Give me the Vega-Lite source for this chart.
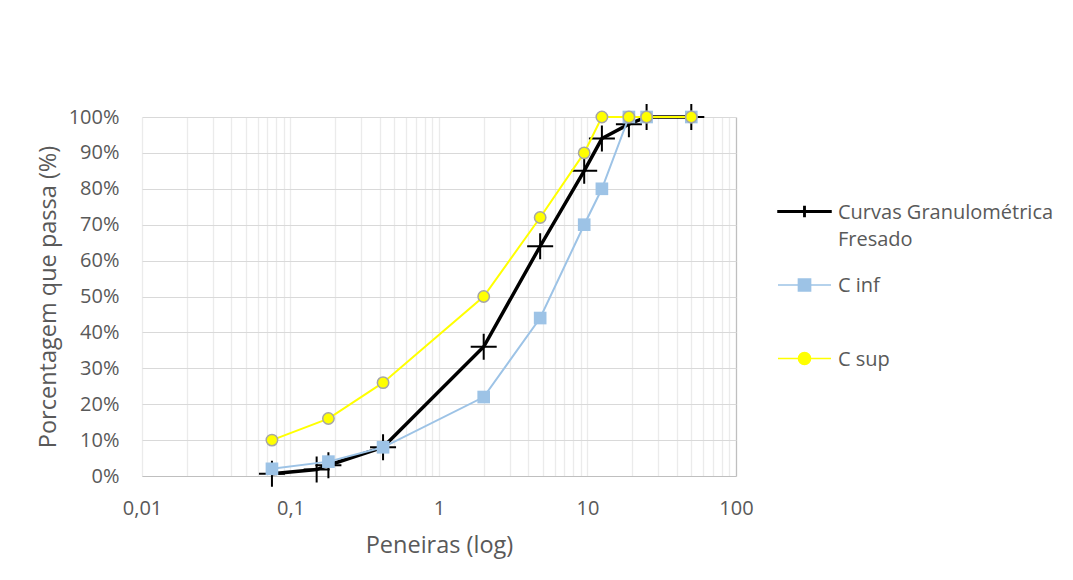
{
  "$schema": "https://vega.github.io/schema/vega-lite/v6.json",
  "width": 594,
  "height": 359,
  "autosize": {"type": "none"},
  "padding": {"left": 142, "top": 117, "right": 337, "bottom": 104},
  "background": "white",
  "config": {
    "font": "Open Sans",
    "view": {"stroke": null},
    "style": {"guide-label": {"dy": 7, "lineHeight": 27}},
    "legend": {
      "title": null,
      "orient": "none",
      "legendX": 635,
      "legendY": 67,
      "padding": 0,
      "gridAlign": "all",
      "symbolSize": 2809,
      "symbolStrokeWidth": 1.5,
      "labelFont": "Open Sans",
      "labelFontSize": 20,
      "labelColor": "#595959",
      "labelLimit": 400,
      "labelOffset": 6,
      "rowPadding": 7.5,
      "labelBaseline": "alphabetic"
    }
  },
  "datasets": {
    "d": [
      {"serie": "Curvas Granulométrica Fresado", "abertura": 0.075, "passa": 0.6},
      {"serie": "Curvas Granulométrica Fresado", "abertura": 0.15, "passa": 1.8},
      {"serie": "Curvas Granulométrica Fresado", "abertura": 0.18, "passa": 3},
      {"serie": "Curvas Granulométrica Fresado", "abertura": 0.42, "passa": 8},
      {"serie": "Curvas Granulométrica Fresado", "abertura": 2, "passa": 36},
      {"serie": "Curvas Granulométrica Fresado", "abertura": 4.8, "passa": 64},
      {"serie": "Curvas Granulométrica Fresado", "abertura": 9.5, "passa": 85},
      {"serie": "Curvas Granulométrica Fresado", "abertura": 12.5, "passa": 94},
      {"serie": "Curvas Granulométrica Fresado", "abertura": 19, "passa": 98},
      {"serie": "Curvas Granulométrica Fresado", "abertura": 25, "passa": 100},
      {"serie": "Curvas Granulométrica Fresado", "abertura": 50, "passa": 100},
      {"serie": "C inf", "abertura": 0.075, "passa": 2},
      {"serie": "C inf", "abertura": 0.18, "passa": 4},
      {"serie": "C inf", "abertura": 0.42, "passa": 8},
      {"serie": "C inf", "abertura": 2, "passa": 22},
      {"serie": "C inf", "abertura": 4.8, "passa": 44},
      {"serie": "C inf", "abertura": 9.5, "passa": 70},
      {"serie": "C inf", "abertura": 12.5, "passa": 80},
      {"serie": "C inf", "abertura": 19, "passa": 100},
      {"serie": "C inf", "abertura": 25, "passa": 100},
      {"serie": "C inf", "abertura": 50, "passa": 100},
      {"serie": "C sup", "abertura": 0.075, "passa": 10},
      {"serie": "C sup", "abertura": 0.18, "passa": 16},
      {"serie": "C sup", "abertura": 0.42, "passa": 26},
      {"serie": "C sup", "abertura": 2, "passa": 50},
      {"serie": "C sup", "abertura": 4.8, "passa": 72},
      {"serie": "C sup", "abertura": 9.5, "passa": 90},
      {"serie": "C sup", "abertura": 12.5, "passa": 100},
      {"serie": "C sup", "abertura": 19, "passa": 100},
      {"serie": "C sup", "abertura": 25, "passa": 100},
      {"serie": "C sup", "abertura": 50, "passa": 100}
    ]
  },
  "data": {"name": "d"},
  "encoding": {
    "x": {
      "field": "abertura",
      "type": "quantitative",
      "scale": {"type": "log", "domain": [0.01, 100], "nice": false},
      "axis": {
        "values": [0.01, 0.02, 0.03, 0.04, 0.05, 0.06, 0.07, 0.08, 0.09, 0.1, 0.2, 0.3, 0.4, 0.5, 0.6, 0.7, 0.8, 0.9, 1, 2, 3, 4, 5, 6, 7, 8, 9, 10, 20, 30, 40, 50, 60, 70, 80, 90, 100],
        "labelExpr": "datum.value == 0.01 ? '0,01' : datum.value == 0.1 ? '0,1' : datum.value == 1 ? '1' : datum.value == 10 ? '10' : datum.value == 100 ? '100' : ''",
        "labelOverlap": false,
        "labelFlush": false,
        "ticks": false,
        "domain": true,
        "domainColor": "#BFBFBF",
        "domainWidth": 1.2,
        "grid": true,
        "gridColor": {"condition": {"test": "datum.value == 100", "value": "#BFBFBF"}, "value": "#EBEBEB"},
        "gridWidth": 1.3,
        "labelFontSize": 20,
        "labelColor": "#595959",
        "labelBaseline": "alphabetic",
        "labelPadding": 31,
        "title": "Peneiras (log)",
        "titleFontSize": 23.5,
        "titleFontWeight": "normal",
        "titleColor": "#595959",
        "titleBaseline": "alphabetic",
        "titleY": 76
      }
    },
    "y": {
      "field": "passa",
      "type": "quantitative",
      "scale": {"domain": [0, 100], "nice": false},
      "axis": {
        "values": [0, 10, 20, 30, 40, 50, 60, 70, 80, 90, 100],
        "labelExpr": "datum.value + '%'",
        "ticks": false,
        "domain": false,
        "grid": true,
        "gridColor": "#D9D9D9",
        "gridWidth": 1.2,
        "labelFontSize": 20,
        "labelColor": "#595959",
        "labelPadding": 23,
        "labelOffset": -7,
        "title": "Porcentagem que passa (%)",
        "titleFontSize": 23.5,
        "titleFontWeight": "normal",
        "titleColor": "#595959",
        "titleBaseline": "alphabetic",
        "titleX": -87
      }
    }
  },
  "layer": [
    {
      "transform": [{"filter": "datum.serie == 'Curvas Granulométrica Fresado'"}],
      "mark": {"type": "line", "color": "#000000", "strokeWidth": 3.5}
    },
    {
      "transform": [{"filter": "datum.serie == 'Curvas Granulométrica Fresado'"}],
      "mark": {"type": "point", "shape": "M-1,0H1M0,-1V1", "size": 676, "filled": false, "stroke": "#000000", "strokeWidth": 2, "opacity": 1}
    },
    {
      "transform": [{"filter": "datum.serie == 'C inf'"}],
      "mark": {"type": "line", "color": "#9DC3E6", "strokeWidth": 2}
    },
    {
      "transform": [{"filter": "datum.serie == 'C inf'"}],
      "mark": {"type": "point", "shape": "square", "size": 160, "filled": true, "color": "#9DC3E6", "opacity": 1}
    },
    {
      "transform": [{"filter": "datum.serie == 'C sup'"}],
      "mark": {"type": "line", "color": "#FFFF00", "strokeWidth": 2}
    },
    {
      "transform": [{"filter": "datum.serie == 'C sup'"}],
      "mark": {"type": "point", "shape": "circle", "size": 130, "filled": true, "fill": "#FFFF00", "stroke": "#A6A6A6", "strokeWidth": 1.5, "opacity": 1}
    },
    {
      "transform": [{"filter": "false"}],
      "mark": {"type": "point", "filled": true, "opacity": 1},
      "encoding": {
        "shape": {
          "field": "serie",
          "type": "nominal",
          "scale": {
            "domain": ["Curvas Granulométrica Fresado", "C inf", "C sup"],
            "range": [
              "M-1,-0.03H1V0.03H-1ZM-0.025,-0.19H0.025V0.19H-0.025Z",
              "M-1,0H1M-0.23,-0.23H0.23V0.23H-0.23Z",
              "M-1,0H1M-0.23,0A0.23,0.23 0 1,0 0.23,0A0.23,0.23 0 1,0 -0.23,0Z"
            ]
          },
          "legend": {
            "labelExpr": "datum.label == 'Curvas Granulométrica Fresado' ? ['Curvas Granulométrica', 'Fresado'] : datum.label"
          }
        },
        "fill": {
          "field": "serie",
          "type": "nominal",
          "scale": {
            "domain": ["Curvas Granulométrica Fresado", "C inf", "C sup"],
            "range": ["#000000", "#9DC3E6", "#FFFF00"]
          },
          "legend": {
            "labelExpr": "datum.label == 'Curvas Granulométrica Fresado' ? ['Curvas Granulométrica', 'Fresado'] : datum.label"
          }
        },
        "stroke": {
          "field": "serie",
          "type": "nominal",
          "scale": {
            "domain": ["Curvas Granulométrica Fresado", "C inf", "C sup"],
            "range": ["#000000", "#9DC3E6", "#FFFF00"]
          },
          "legend": {
            "labelExpr": "datum.label == 'Curvas Granulométrica Fresado' ? ['Curvas Granulométrica', 'Fresado'] : datum.label"
          }
        }
      }
    }
  ]
}
